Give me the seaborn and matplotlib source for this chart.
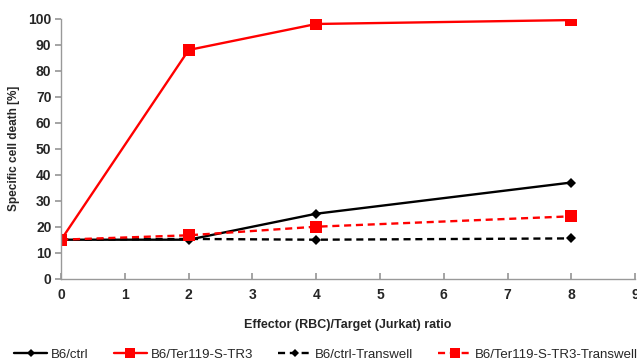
import numpy as np
import pandas as pd
import matplotlib
matplotlib.use('Agg')
import matplotlib.pyplot as plt
import seaborn as sns

ratios = [0, 2, 4, 8]
series_names = ['B6/ctrl', 'B6/Ter119-S-TR3', 'B6/ctrl-Transwell', 'B6/Ter119-S-TR3-Transwell']
b6_ctrl = [15, 15, 25, 37]
b6_ter119 = [15, 88, 98, 99.5]
b6_ctrl_transwell = [15, 15.3, 15, 15.5]
b6_ter119_transwell = [15, 16.7, 20, 24]

sns.set_theme(style='white')
plt.rcParams['font.family'] = ['Liberation Sans', 'DejaVu Sans']

rows = []
for name, vals in zip(series_names, [b6_ctrl, b6_ter119, b6_ctrl_transwell, b6_ter119_transwell]):
    for r, v in zip(ratios, vals):
        rows.append({'ratio': r, 'death': v, 'series': name})
df = pd.DataFrame(rows)

palette = {'B6/ctrl': 'black', 'B6/Ter119-S-TR3': '#ff0000',
           'B6/ctrl-Transwell': 'black', 'B6/Ter119-S-TR3-Transwell': '#ff0000'}
dashes = {'B6/ctrl': '', 'B6/Ter119-S-TR3': '',
          'B6/ctrl-Transwell': (3, 2), 'B6/Ter119-S-TR3-Transwell': (3, 2)}
markers = {'B6/ctrl': 'D', 'B6/Ter119-S-TR3': 's',
           'B6/ctrl-Transwell': 'D', 'B6/Ter119-S-TR3-Transwell': 's'}

fig = plt.figure(figsize=(6.37, 3.61), dpi=100)
ax = fig.add_axes([0.096, 0.228, 0.901, 0.72])
sns.lineplot(data=df, x='ratio', y='death', hue='series', style='series',
             palette=palette, dashes=dashes, markers=markers, hue_order=series_names,
             style_order=series_names, linewidth=1.7, markersize=8, markeredgewidth=0,
             ax=ax, legend='full')
# smaller diamonds than squares
for line in ax.get_lines():
    if line.get_marker() == 'D':
        line.set_markersize(5.5)

ax.set_xlim(0, 9)
ax.set_ylim(0, 100)
ax.set_xticks(range(0, 10))
ax.set_yticks(range(0, 101, 10))
for lab in ax.get_xticklabels() + ax.get_yticklabels():
    lab.set_fontweight('bold')
ax.tick_params(axis='x', direction='in', length=4, color='#999999', labelsize=10, pad=7, bottom=True)
ax.tick_params(axis='y', direction='out', length=4, color='#999999', labelsize=10, pad=3, left=True)
sns.despine(ax=ax)
for s in ['left', 'bottom']:
    ax.spines[s].set_color('#999999')
    ax.spines[s].set_linewidth(1.0)

ax.set_xlabel('Effector (RBC)/Target (Jurkat) ratio', fontsize=9, fontweight='bold', labelpad=12)
ax.set_ylabel('Specific cell death [%]', fontsize=8.5, fontweight='bold', labelpad=6)

handles, labels = ax.get_legend_handles_labels()
for h in handles:
    if h.get_marker() == 'D':
        h.set_markersize(4.5)
    else:
        h.set_markersize(6.5)
ax.get_legend().remove()
fig.legend(handles, labels, loc='center', bbox_to_anchor=(0.512, 0.018), ncol=4,
           frameon=False, fontsize=9.5, handlelength=2.5, columnspacing=1.9, handletextpad=0.3,
           borderaxespad=0, borderpad=0)

fig.savefig('out.png', dpi=100)
